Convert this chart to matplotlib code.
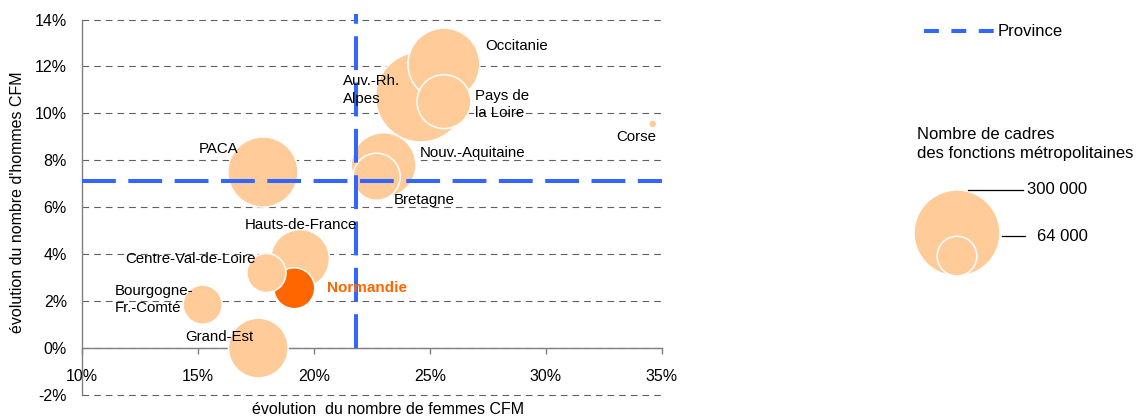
import numpy as np
import matplotlib.pyplot as plt
from matplotlib.lines import Line2D
from matplotlib.ticker import FuncFormatter, MultipleLocator

plt.rcParams['font.family'] = ['Liberation Sans', 'DejaVu Sans']

# data (evolutions en %, nombre de cadres des fonctions metropolitaines)
regions = ["Auv.-Rh.\nAlpes", "Occitanie", "PACA", "Nouv.-Aquitaine", "Grand-Est",
           "Hauts-de-France", "Pays de\nla Loire", "Bretagne", "Normandie",
           "Centre-Val-de-Loire", "Bourgogne-\nFr.-Comté", "Corse"]
evol_femmes = [24.6, 25.6, 17.8, 23.0, 17.6, 19.4, 25.6, 22.7, 19.15, 17.95, 15.2, 34.6]
evol_hommes = [10.7, 12.1, 7.5, 7.8, 0.0, 3.8, 10.5, 7.3, 2.55, 3.2, 1.85, 9.55]
nb_cfm = [330000, 210000, 200000, 170000, 145000, 140000, 118000, 90000, 68000, 62000, 62000, 2600]
province_femmes = 21.8
province_hommes = 7.1
legend_values = [300000, 64000]
legend_labels = ["300 000", "64 000"]

# label offsets in pixels from bubble centre (dx, dy up), alignment
label_pos = {
    "Auv.-Rh.\nAlpes": (-78, 7, 'left'),
    "Occitanie": (41, 18, 'left'),
    "PACA": (-64, 23, 'left'),
    "Nouv.-Aquitaine": (36, 12, 'left'),
    "Grand-Est": (-73, 11, 'left'),
    "Hauts-de-France": (-55, 34, 'left'),
    "Pays de\nla Loire": (31, -3, 'left'),
    "Bretagne": (17, -23, 'left'),
    "Normandie": (33, 0, 'left'),
    "Centre-Val-de-Loire": (-11, 14, 'right'),
    "Bourgogne-\nFr.-Comté": (-88, 5, 'left'),
    "Corse": (4, -13, 'right'),
}

PEACH = '#FFCC99'
ORANGE = '#FF6600'
BLUE = '#3366FF'
DPI = 100


def bubble_size(v):
    r = 43 * np.sqrt(np.asarray(v) / 300000.0)  # radius in px
    return (2 * r * 72.0 / DPI) ** 2


fig = plt.figure(figsize=(11.44, 4.16), dpi=DPI)
ax = fig.add_axes([82 / 1144, 1 - 395 / 416, 580 / 1144, 375.5 / 416])

colors = [ORANGE if r == "Normandie" else PEACH for r in regions]
ax.scatter(evol_femmes, evol_hommes, s=bubble_size(nb_cfm), c=colors,
           edgecolors='white', linewidths=1.1, zorder=3)

for name, x, y in zip(regions, evol_femmes, evol_hommes):
    dx, dy, ha = label_pos[name]
    bold = name == "Normandie"
    ax.annotate(name, (x, y), xytext=(dx, dy), textcoords='offset pixels',
                ha=ha, va='center', fontsize=11 if bold else 10.8,
                fontweight='bold' if bold else 'normal',
                color=ORANGE if bold else 'black', linespacing=1.3, zorder=5)

# province reference lines
prov_style = dict(color=BLUE, linewidth=2.9, dashes=(8.4, 3.1), zorder=4)
ax.axhline(province_hommes, **prov_style)
ax.axvline(province_femmes, ymin=(0 + 2) / 16, ymax=1.015, clip_on=False, **prov_style)

ax.set_xlim(10, 35)
ax.set_ylim(-2, 14)
ax.xaxis.set_major_locator(MultipleLocator(5))
ax.yaxis.set_major_locator(MultipleLocator(2))
pct = FuncFormatter(lambda v, p: f"{v:.0f}%")
ax.xaxis.set_major_formatter(pct)
ax.yaxis.set_major_formatter(pct)

ax.yaxis.grid(True, color='#606060', linewidth=0.8, linestyle=(0, (6, 4.5)), zorder=0)
for gl in ax.get_ygridlines():
    gl.set_clip_on(False)
ax.set_axisbelow(True)
for s in ['top', 'right']:
    ax.spines[s].set_visible(False)
ax.spines['bottom'].set_position(('data', 0))
for s in ['left', 'bottom']:
    ax.spines[s].set_color('#808080')
    ax.spines[s].set_linewidth(1.0)
ax.tick_params(axis='x', length=4.5, width=1.0, color='#808080', pad=10.5, labelsize=11.5)
ax.tick_params(axis='y', length=0, pad=10.8, labelsize=11.5)

fig.text(388 / 1144, 1 - 409 / 416, "évolution  du nombre de femmes CFM",
         ha='center', va='center', fontsize=11.5)
fig.text(18 / 1144, 1 - 202 / 416, "évolution du nombre d'hommes CFM",
         ha='center', va='center', rotation=90, fontsize=11.5)

# legend area in pixel coordinates
lax = fig.add_axes([0, 0, 1, 1])
lax.set_xlim(0, 1144)
lax.set_ylim(416, 0)
lax.axis('off')

prov_handle = Line2D([], [], color=BLUE, linewidth=2.9, dashes=(3.7, 3.1))
fig.legend([prov_handle], ["Province"], loc='center left',
           bbox_to_anchor=(909 / 1144, 1 - 32 / 416), frameon=False,
           handlelength=4.4, handletextpad=0.0, fontsize=12)

lax.text(917, 144, "Nombre de cadres\ndes fonctions métropolitaines",
         ha='left', va='center', fontsize=12, linespacing=1.32)

cx, bottom = 957, 276
radii = 43 * np.sqrt(np.array(legend_values) / 300000.0)
centers = [bottom - r for r in radii]
lax.scatter([cx] * len(legend_values), centers, s=bubble_size(legend_values),
            c=PEACH, edgecolors='white', linewidths=1.1)
line_x = [(968, 1023, 1027), (1002, 1025, 1037)]
for (x0, x1, xt), cy, r, lab in zip(line_x, centers, radii, legend_labels):
    top = cy - r
    lax.plot([x0, x1], [top, top], color='black', linewidth=0.9)
    lax.text(xt, top, lab, ha='left', va='center', fontsize=12)

fig.savefig('out.png', dpi=DPI)
